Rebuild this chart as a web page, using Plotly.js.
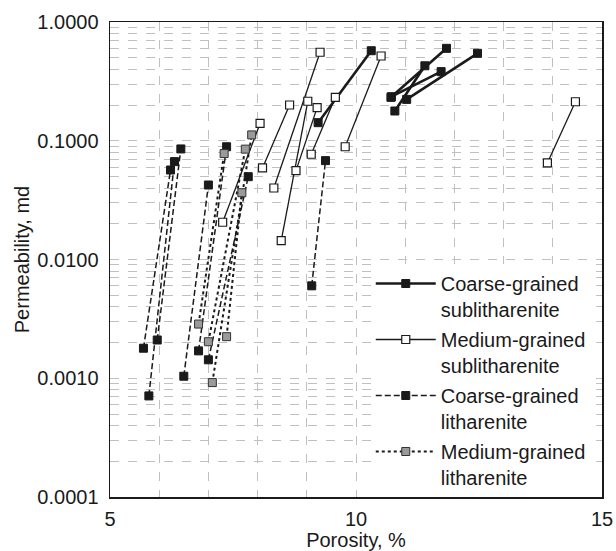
<!DOCTYPE html>
<html>
<head>
<meta charset="utf-8">
<script src="https://cdn.plot.ly/plotly-3.0.1.min.js"></script>
<style>html,body{margin:0;padding:0;background:#fff}#chart{width:616px;height:551px}</style>
</head>
<body>
<div id="chart"></div>
<script>
// Coarse-grained sublitharenite (pairs separated by null)
var csX = [9.23, 10.31, null, 10.71, 11.84, null, 10.79, 11.40, null, 10.72, 11.73, null, 11.03, 12.47];
var csY = [0.142, 0.573, null, 0.232, 0.600, null, 0.178, 0.428, null, 0.235, 0.382, null, 0.223, 0.545];
// Medium-grained sublitharenite
var msX = [7.29, 8.05, null, 8.10, 8.65, null, 8.33, 9.27, null, 8.48, 9.02, null, 8.78, 9.21, null, 9.09, 9.58, null, 9.78, 10.51, null, 13.89, 14.46];
var msY = [0.0206, 0.140, null, 0.059, 0.200, null, 0.040, 0.556, null, 0.0144, 0.215, null, 0.056, 0.190, null, 0.077, 0.232, null, 0.089, 0.517, null, 0.065, 0.213];
// Coarse-grained litharenite
var clX = [5.68, 6.23, null, 5.79, 6.31, null, 5.96, 6.44, null, 6.50, 7.00, null, 6.80, 7.37, null, 7.00, 7.81, null, 9.10, 9.38];
var clY = [0.00179, 0.0567, null, 0.00071, 0.0667, null, 0.0021, 0.0853, null, 0.00104, 0.0424, null, 0.0017, 0.089, null, 0.00143, 0.0498, null, 0.0060, 0.068];
// Medium-grained litharenite
var mlX = [6.80, 7.32, null, 7.00, 7.75, null, 7.08, 7.88, null, 7.37, 7.68];
var mlY = [0.00286, 0.078, null, 0.00203, 0.085, null, 0.00092, 0.112, null, 0.00224, 0.0365];

var seriesNames = ['Coarse-grained<br>sublitharenite', 'Medium-grained<br>sublitharenite', 'Coarse-grained<br>litharenite', 'Medium-grained<br>litharenite'];
var yTickVals = [0.0001, 0.001, 0.01, 0.1, 1];
var yTickText = ['0.0001', '0.0010', '0.0100', '0.1000', '1.0000'];
var xTickVals = [5, 10, 15];

var minorY = [];
for (var e = -4; e < 0; e++) { for (var m = 2; m <= 9; m++) { minorY.push(m * Math.pow(10, e)); } }

var traces = [
  {x: csX, y: csY, name: seriesNames[0], mode: 'lines+markers', connectgaps: false, legendgroup: 'a',
   line: {color: '#1a1a1a', width: 2.6}, marker: {symbol: 'square', size: 8, color: '#1a1a1a', line: {color: '#1a1a1a', width: 1}}},
  {x: msX, y: msY, name: seriesNames[1], mode: 'lines+markers', connectgaps: false, legendgroup: 'b',
   line: {color: '#1a1a1a', width: 1.3}, marker: {symbol: 'square', size: 8, color: '#ffffff', line: {color: '#1a1a1a', width: 1.2}}},
  {x: clX, y: clY, name: seriesNames[2], mode: 'lines+markers', connectgaps: false, legendgroup: 'c',
   line: {color: '#1a1a1a', width: 1.5, dash: '6px,3px'}, marker: {symbol: 'square', size: 8, color: '#1a1a1a', line: {color: '#1a1a1a', width: 1}}},
  {x: mlX, y: mlY, name: seriesNames[3], mode: 'lines+markers', connectgaps: false, legendgroup: 'd',
   line: {color: '#1a1a1a', width: 2, dash: 'dot'}, marker: {symbol: 'square', size: 8, color: '#9a9a9a', line: {color: '#333333', width: 1}}}
];

var gridCol = '#c0c0c0';
var layout = {
  width: 616, height: 551,
  margin: {l: 110, r: 14, t: 22, b: 54},
  paper_bgcolor: '#ffffff', plot_bgcolor: '#ffffff',
  font: {family: 'Liberation Sans, Arial, sans-serif', size: 20, color: '#1a1a1a'},
  showlegend: true,
  legend: {x: 0.53, xanchor: 'left', y: 0, yanchor: 'bottom', bgcolor: '#ffffff', borderwidth: 0, valign: 'top',
           font: {size: 20, color: '#1a1a1a'}, traceorder: 'grouped', tracegroupgap: 1, itemwidth: 60},
  xaxis: {range: [5, 15], tickmode: 'array', tickvals: xTickVals, ticktext: ['5', '10', '15'],
          showline: true, linecolor: '#1a1a1a', linewidth: 1.5, mirror: true, ticks: '', zeroline: false,
          showgrid: true, gridcolor: gridCol, griddash: 'dash', gridwidth: 1,
          minor: {dtick: 1, showgrid: true, gridcolor: gridCol, griddash: 'dash', gridwidth: 1, ticks: ''},
          ticklabelstandoff: 3, automargin: false,
          title: {text: 'Porosity, %', font: {size: 20}, standoff: 0}, tickfont: {size: 20}},
  yaxis: {type: 'log', range: [-4, 0], tickmode: 'array', tickvals: yTickVals, ticktext: yTickText,
          showline: true, linecolor: '#1a1a1a', linewidth: 1.5, mirror: true, ticks: '', zeroline: false,
          showgrid: true, gridcolor: gridCol, griddash: 'dash', gridwidth: 1,
          minor: {tickvals: minorY, showgrid: true, gridcolor: gridCol, griddash: 'dash', gridwidth: 1, ticks: ''},
          ticklabelstandoff: 6, automargin: false,
          title: {text: 'Permeability, md', font: {size: 20}, standoff: 2}, tickfont: {size: 20}}
};

Plotly.newPlot('chart', traces, layout, {displayModeBar: false, staticPlot: true});
</script>
</body>
</html>
